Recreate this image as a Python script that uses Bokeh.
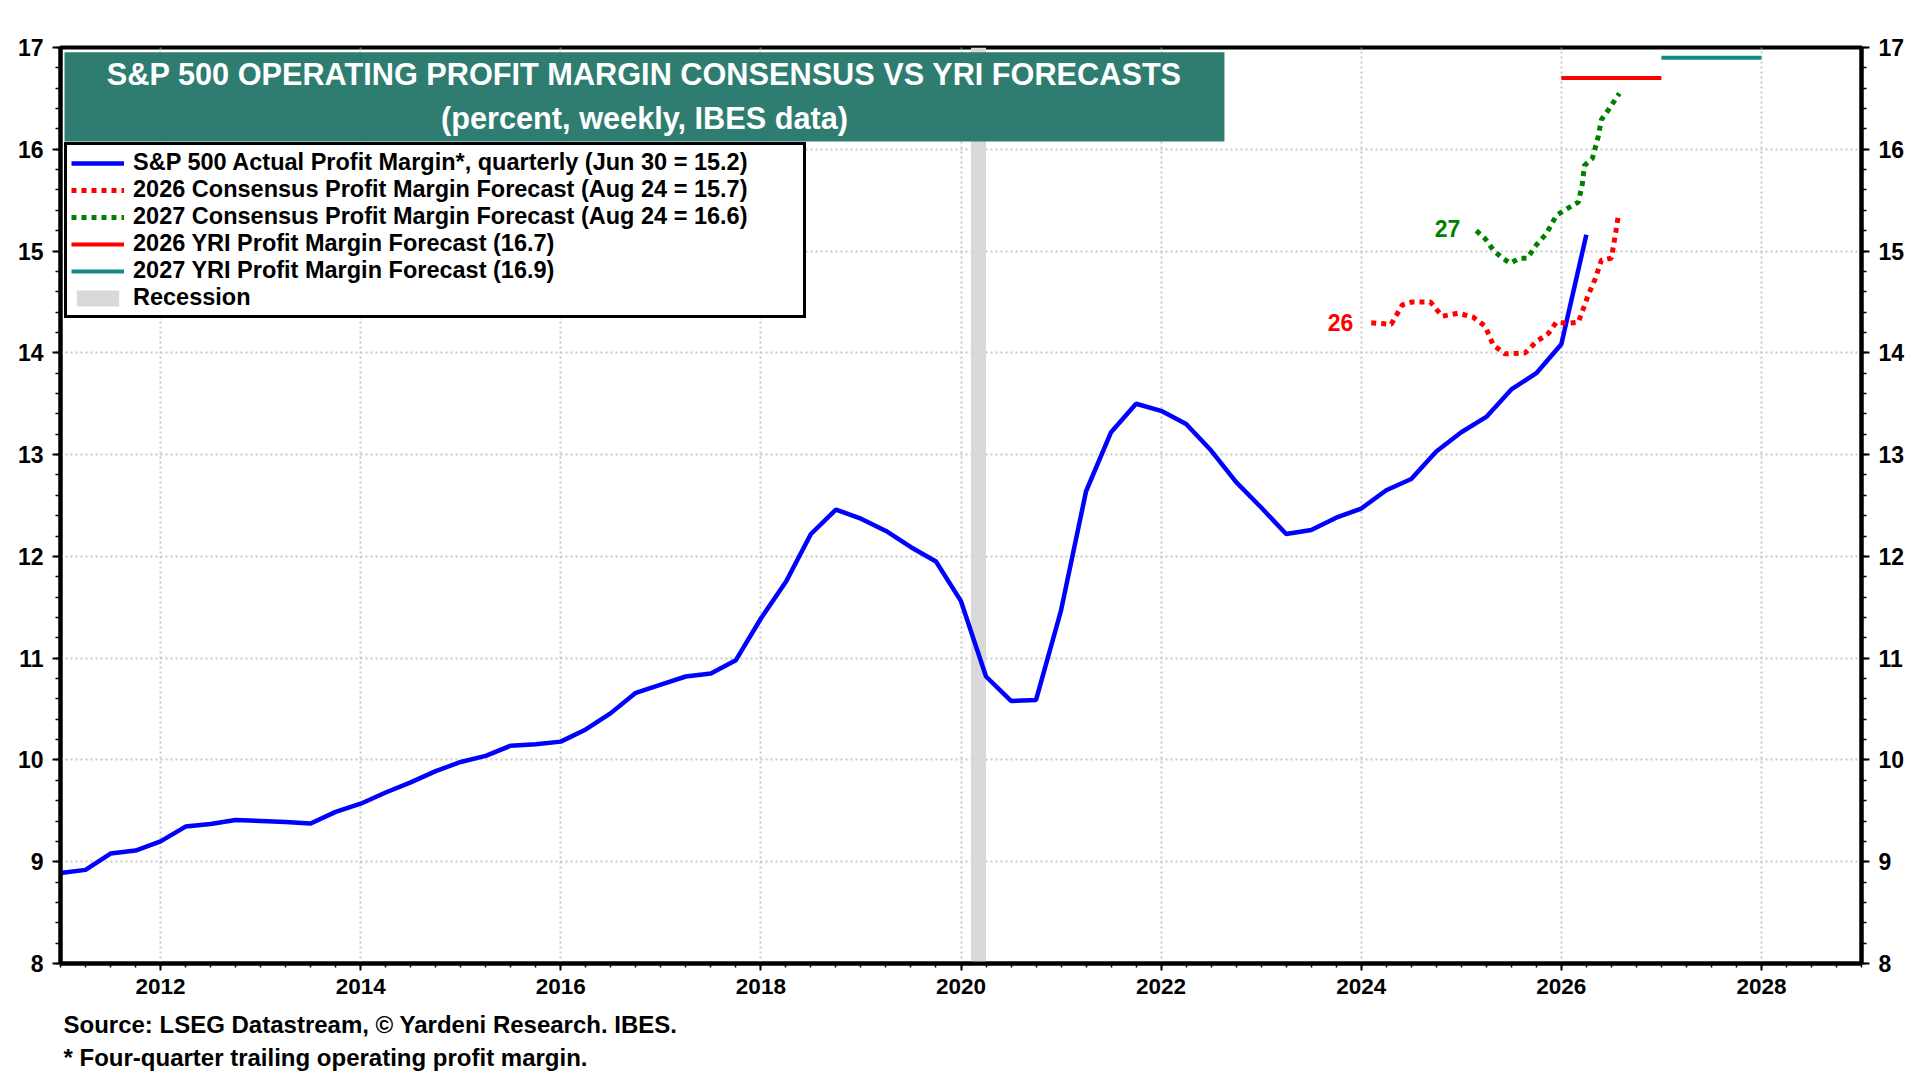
from bokeh.plotting import figure
from bokeh.models import (Range1d, LinearAxis, SingleIntervalTicker, Legend, LegendItem,
                          BoxAnnotation, Label, Grid, Title)
from bokeh.embed import file_html
from bokeh.resources import INLINE

FONT = "Liberation Sans"

# ---------------- data ----------------
actual_start = 2011.0  # first quarter plotted
actual_margin = [8.89, 8.92, 9.08, 9.11, 9.20, 9.345, 9.37, 9.41, 9.40, 9.39, 9.375, 9.49,
                 9.57, 9.68, 9.78, 9.89, 9.98, 10.04, 10.14, 10.155, 10.18, 10.30, 10.46, 10.66,
                 10.74, 10.82, 10.85, 10.98, 11.39, 11.75, 12.22, 12.46, 12.37, 12.25, 12.09, 11.95,
                 11.56, 10.82, 10.58, 10.59, 11.47, 12.64, 13.22, 13.50, 13.43, 13.30, 13.04, 12.73,
                 12.48, 12.22, 12.26, 12.38, 12.47, 12.65, 12.76, 13.03, 13.22, 13.37, 13.64, 13.80,
                 14.085, 15.16]
actual_x = [actual_start + 0.25 * i for i in range(len(actual_margin))]

cons26_x = [2024.10, 2024.30, 2024.41, 2024.51, 2024.69, 2024.81, 2024.97, 2025.12, 2025.24,
            2025.32, 2025.44, 2025.64, 2025.75, 2025.87, 2025.95, 2026.07, 2026.17, 2026.27,
            2026.34, 2026.40, 2026.50, 2026.54, 2026.57]
cons26_y = [14.295, 14.28, 14.47, 14.50, 14.50, 14.36, 14.39, 14.35, 14.26,
            14.075, 13.99, 14.00, 14.11, 14.19, 14.30, 14.29, 14.30, 14.57,
            14.73, 14.91, 14.93, 15.16, 15.35]

cons27_x = [2025.15, 2025.24, 2025.32, 2025.40, 2025.49, 2025.58, 2025.66, 2025.75, 2025.85,
            2025.95, 2026.03, 2026.17, 2026.21, 2026.23, 2026.31, 2026.37, 2026.40, 2026.48, 2026.58]
cons27_y = [15.20, 15.12, 15.01, 14.94, 14.88, 14.93, 14.93, 15.06, 15.17,
            15.35, 15.40, 15.48, 15.66, 15.84, 15.91, 16.13, 16.29, 16.40, 16.55]

yri26_x = [2026.0, 2027.0]
yri26_y = [16.7, 16.7]
yri27_x = [2027.0, 2028.0]
yri27_y = [16.9, 16.9]

recession_start = [2020.10]
recession_end = [2020.25]

legend_labels = ["S&P 500 Actual Profit Margin*, quarterly (Jun 30 = 15.2)",
                 "2026 Consensus Profit Margin Forecast (Aug 24 = 15.7)",
                 "2027 Consensus Profit Margin Forecast (Aug 24 = 16.6)",
                 "2026 YRI Profit Margin Forecast (16.7)",
                 "2027 YRI Profit Margin Forecast (16.9)",
                 "Recession"]

title_1 = "S&P 500 OPERATING PROFIT MARGIN CONSENSUS VS YRI FORECASTS"
title_2 = "(percent, weekly, IBES data)"
source_1 = "Source: LSEG Datastream, \u00a9 Yardeni Research. IBES."
source_2 = "* Four-quarter trailing operating profit margin."

# ---------------- figure ----------------
p = figure(frame_width=1801, frame_height=916, title=None,
           x_range=Range1d(2011, 2029), y_range=Range1d(8, 17),
           x_axis_type=None, y_axis_type=None,
           output_backend="svg", toolbar_location=None,
           min_border_left=60, min_border_right=51, min_border_top=47, min_border_bottom=40)
p.background_fill_color = "white"
p.border_fill_color = "white"
p.outline_line_color = "black"
p.outline_line_width = 4
p.outline_line_alpha = 1

xticker = SingleIntervalTicker(interval=2, num_minor_ticks=8)
yticker = SingleIntervalTicker(interval=1, num_minor_ticks=5)

def style_axis(ax, size):
    ax.axis_line_color = "black"
    ax.axis_line_width = 4
    ax.major_tick_line_color = "black"
    ax.major_tick_line_width = 2
    ax.minor_tick_line_color = "black"
    ax.minor_tick_line_width = 1.5
    ax.major_tick_in = 0
    ax.minor_tick_in = 0
    ax.major_label_text_font = FONT
    ax.major_label_text_font_style = "bold"
    ax.major_label_text_font_size = size
    ax.major_label_text_color = "black"

xaxis = LinearAxis(ticker=xticker)
style_axis(xaxis, "22.5px")
xaxis.major_tick_out = 7
xaxis.minor_tick_out = 4
xaxis.major_label_standoff = 8
p.add_layout(xaxis, "below")

for side in ("left", "right"):
    ya = LinearAxis(ticker=yticker)
    style_axis(ya, "23px")
    ya.major_tick_out = 8
    ya.minor_tick_out = 5
    ya.major_label_standoff = 9
    p.add_layout(ya, side)

for dim, tk in ((0, xticker), (1, yticker)):
    g = Grid(dimension=dim, ticker=tk)
    g.grid_line_color = "#c8c8c8"
    g.grid_line_width = 2
    g.grid_line_dash = "2 3"
    p.add_layout(g)

# source notes below the axis (one two-line title)
notes = Title(text=source_1 + "\n" + source_2, align="left", offset=3, standoff=26,
              text_font=FONT, text_font_style="bold", text_font_size="24px",
              text_color="black", text_line_height=1.23)
p.add_layout(notes, "below")

# recession band
rec = p.quad(left=recession_start, right=recession_end, bottom=[8], top=[17],
             fill_color="#d9d9d9", line_color=None)

r_act = p.line(actual_x, actual_margin, line_color="#0000ff", line_width=4.5)
r_26 = p.line(cons26_x, cons26_y, line_color="#ff0000", line_width=5, line_dash="5 5")
r_27 = p.line(cons27_x, cons27_y, line_color="#008000", line_width=5, line_dash="5 5")
r_y26 = p.line(yri26_x, yri26_y, line_color="#ff0000", line_width=4)
r_y27 = p.line(yri27_x, yri27_y, line_color="#138b88", line_width=4)

# series tags
p.add_layout(Label(x=2023.92, y=14.30, text="26", text_align="right", text_baseline="middle",
                   text_font=FONT, text_font_style="bold", text_font_size="23px", text_color="#ff0000"))
p.add_layout(Label(x=2024.99, y=15.22, text="27", text_align="right", text_baseline="middle",
                   text_font=FONT, text_font_style="bold", text_font_size="23px", text_color="#008000"))

# title box
p.add_layout(BoxAnnotation(left=2011.04, right=2022.633, top=16.954, bottom=16.076,
                           fill_color="#2E7D70", fill_alpha=1, line_color=None))
p.add_layout(Label(x=2016.837, y=16.735, text=title_1, text_align="center", text_baseline="middle",
                   text_font=FONT, text_font_style="bold", text_font_size="30.7px", text_color="white"))
p.add_layout(Label(x=2016.837, y=16.306, text=title_2, text_align="center", text_baseline="middle",
                   text_font=FONT, text_font_style="bold", text_font_size="30.7px", text_color="white"))

# legend
legend = Legend(items=[LegendItem(label=lab, renderers=[r]) for lab, r in
                       zip(legend_labels, [r_act, r_26, r_27, r_y26, r_y27, rec])],
                location=(4, 645))
legend.label_text_font = FONT
legend.label_text_font_style = "bold"
legend.label_text_font_size = "23.5px"
legend.label_text_color = "black"
legend.glyph_width = 53
legend.glyph_height = 20
legend.label_standoff = 9
legend.label_width = 666
legend.label_height = 20
legend.padding = 4
legend.spacing = 0
legend.margin = 0
legend.border_line_color = "black"
legend.border_line_width = 3
legend.border_line_alpha = 1
legend.background_fill_color = "white"
legend.background_fill_alpha = 1
p.add_layout(legend)

open("out.html", "w").write(file_html(p, INLINE))
